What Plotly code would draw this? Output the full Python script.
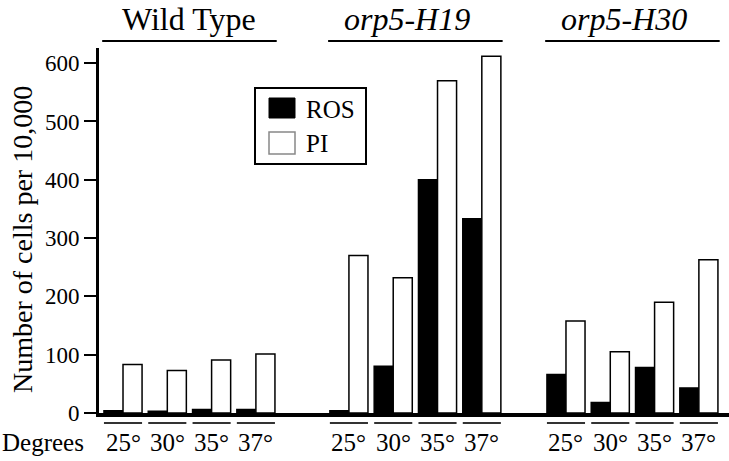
import plotly.graph_objects as go

# ---- data ----
group_names = ["Wild Type", "<i>orp5-H19</i>", "<i>orp5-H30</i>"]
temperatures = ["25°", "30°", "35°", "37°"]
ros_wild_type = [4, 3, 6, 6]
pi_wild_type = [83, 73, 91, 101]
ros_h19 = [4, 80, 400, 333]
pi_h19 = [270, 232, 570, 612]
ros_h30 = [66, 18, 78, 43]
pi_h30 = [158, 105, 190, 263]
y_ticks = [0, 100, 200, 300, 400, 500, 600]

ros_all = [ros_wild_type, ros_h19, ros_h30]
pi_all = [pi_wild_type, pi_h19, pi_h30]

# ---- layout constants ----
FONT = "'Liberation Serif', 'Times New Roman', 'DejaVu Serif', serif"
group_offsets = [0, 5.1, 10]
header_shift = [0, -0.2, -0.2]
bar_w = 0.43
W, H = 729, 461
ML, MR, MT, MB = 99, 0, 48, 48
PW, PH = W - ML - MR, H - MT - MB


def px_x(p):
    return (p - ML) / PW


def px_y(p):
    return (H - MB - p) / PH


xs, ros_y, pi_y = [], [], []
for g, off in enumerate(group_offsets):
    for i in range(len(temperatures)):
        xs.append(off + i)
        ros_y.append(ros_all[g][i])
        pi_y.append(pi_all[g][i])

fig = go.Figure()
fig.add_trace(go.Bar(x=xs, y=ros_y, width=bar_w, offset=-bar_w, name="ROS",
                     marker=dict(color="black", line=dict(color="black", width=1.5)),
                     showlegend=False))
fig.add_trace(go.Bar(x=xs, y=pi_y, width=bar_w, offset=0, name="PI",
                     marker=dict(color="white", line=dict(color="black", width=1.5)),
                     showlegend=False))

shapes = []
annotations = []

# group headers
for g, off in enumerate(group_offsets):
    annotations.append(dict(x=off + 1.5 + header_shift[g], y=px_y(19), xref="x", yref="paper",
                            text=group_names[g], showarrow=False,
                            font=dict(family=FONT, size=32, color="black"),
                            xanchor="center", yanchor="middle"))
    shapes.append(dict(type="line", xref="x", yref="paper",
                       x0=off - 0.47, x1=off + 3.47, y0=px_y(41), y1=px_y(41),
                       line=dict(color="black", width=2)))
    for i, t in enumerate(temperatures):
        xc = off + i
        annotations.append(dict(x=xc, y=px_y(442), xref="x", yref="paper",
                                text=t, showarrow=False,
                                font=dict(family=FONT, size=25, color="black"),
                                xanchor="center", yanchor="middle"))
        shapes.append(dict(type="line", xref="x", yref="paper",
                           x0=xc - bar_w, x1=xc + bar_w, y0=px_y(423), y1=px_y(423),
                           line=dict(color="#333333", width=2)))

annotations.append(dict(x=px_x(0), y=px_y(442), xref="paper", yref="paper",
                        text="Degrees", showarrow=False,
                        font=dict(family=FONT, size=25, color="black"),
                        xanchor="left", yanchor="middle"))

annotations.append(dict(x=px_x(22), y=px_y(240), xref="paper", yref="paper",
                        text="Number of cells per 10,000", showarrow=False, textangle=-90,
                        font=dict(family=FONT, size=28, color="black"),
                        xanchor="center", yanchor="middle"))

# legend (drawn)
shapes.append(dict(type="rect", xref="paper", yref="paper",
                   x0=px_x(255), x1=px_x(366), y0=px_y(164), y1=px_y(88),
                   line=dict(color="black", width=2), fillcolor="white", layer="below"))
shapes.append(dict(type="rect", xref="paper", yref="paper",
                   x0=px_x(269), x1=px_x(295), y0=px_y(118), y1=px_y(98),
                   line=dict(color="black", width=1), fillcolor="black"))
shapes.append(dict(type="rect", xref="paper", yref="paper",
                   x0=px_x(269), x1=px_x(295), y0=px_y(154), y1=px_y(132),
                   line=dict(color="#888888", width=1.5), fillcolor="white"))
annotations.append(dict(x=px_x(304), y=px_y(109), xref="paper", yref="paper",
                        text="ROS", showarrow=False,
                        font=dict(family=FONT, size=25, color="black"),
                        xanchor="left", yanchor="middle"))
annotations.append(dict(x=px_x(304), y=px_y(143), xref="paper", yref="paper",
                        text="PI", showarrow=False,
                        font=dict(family=FONT, size=25, color="black"),
                        xanchor="left", yanchor="middle"))

fig.update_layout(
    width=W, height=H,
    margin=dict(l=ML, r=MR, t=MT, b=MB),
    paper_bgcolor="white", plot_bgcolor="white",
    barmode="overlay",
    font=dict(family=FONT, color="black"),
    shapes=shapes, annotations=annotations,
    xaxis=dict(range=[-0.542, 13.68], showticklabels=False, ticks="",
               showline=True, linecolor="black", linewidth=4,
               showgrid=False, zeroline=False, fixedrange=True),
    yaxis=dict(range=[0, 626], tickvals=y_ticks, ticks="outside", ticklen=12,
               tickwidth=2, tickcolor="black", showline=True, linecolor="black",
               linewidth=3, showgrid=False, zeroline=False,
               tickfont=dict(family=FONT, size=23, color="black")),
)

fig.write_html("out.html", config={"displayModeBar": False},
               post_script="document.body.style.margin='0';document.body.style.padding='0';")
